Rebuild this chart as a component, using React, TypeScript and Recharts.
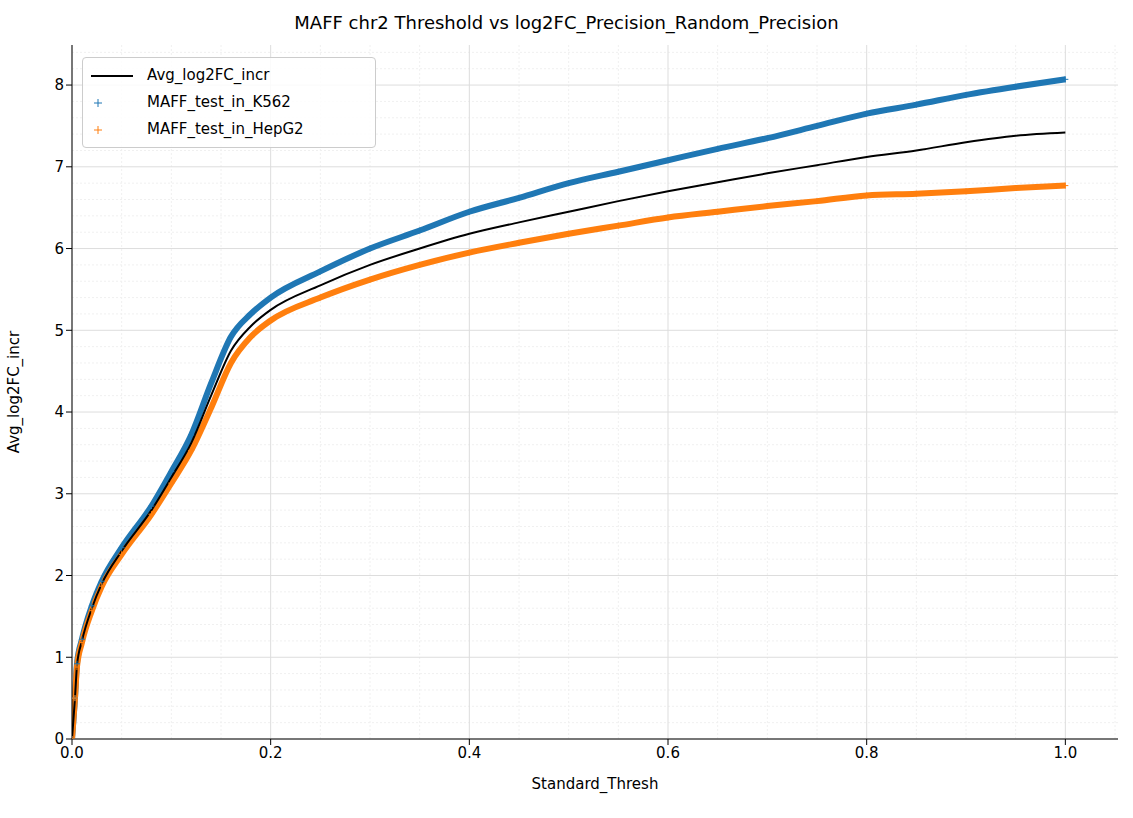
import React from "react"
import { ComposedChart, Line, XAxis, YAxis, CartesianGrid } from "recharts"

const thresh = [0, 0.003, 0.005, 0.01, 0.02, 0.03, 0.05, 0.08, 0.1, 0.12, 0.14, 0.16, 0.18, 0.2, 0.25, 0.3, 0.35, 0.4, 0.45, 0.5, 0.55, 0.6, 0.65, 0.7, 0.75, 0.8, 0.85, 0.9, 0.95, 1.0]
const avgIncr = [0, 0.5, 0.9, 1.2, 1.6, 1.9, 2.3, 2.8, 3.2, 3.62, 4.2, 4.75, 5.05, 5.25, 5.55, 5.8, 6.0, 6.18, 6.32, 6.45, 6.58, 6.7, 6.81, 6.92, 7.02, 7.12, 7.2, 7.3, 7.38, 7.42]
const k562 = [0, 0.5, 0.92, 1.22, 1.63, 1.93, 2.34, 2.85, 3.27, 3.72, 4.35, 4.92, 5.2, 5.4, 5.72, 6.0, 6.22, 6.45, 6.62, 6.8, 6.94, 7.08, 7.22, 7.35, 7.5, 7.65, 7.76, 7.88, 7.98, 8.07]
const hepg2 = [0, 0.5, 0.88, 1.18, 1.57, 1.87, 2.26, 2.75, 3.13, 3.53, 4.05, 4.6, 4.92, 5.12, 5.4, 5.62, 5.8, 5.95, 6.07, 6.18, 6.28, 6.38, 6.45, 6.52, 6.58, 6.65, 6.67, 6.7, 6.74, 6.77]
const xTicks = [0, 0.2, 0.4, 0.6, 0.8, 1.0]
const yTicks = [0, 1, 2, 3, 4, 5, 6, 7, 8]
const xMinor = [0.05, 0.1, 0.15, 0.25, 0.3, 0.35, 0.45, 0.5, 0.55, 0.65, 0.7, 0.75, 0.85, 0.9, 0.95, 1.05]
const yMinor = [0.2, 0.4, 0.6, 0.8]

const data = thresh.map((t, i) => ({ t, avg: avgIncr[i], k562: k562[i], hepg2: hepg2[i] }))

const font = "DejaVu Sans, sans-serif"
const X_MAX = 1.053
const Y_MAX = 8.49
const L = 72, R = 1118, T = 45, B = 739
const px = (v: number) => L + (v / X_MAX) * (R - L)
const py = (v: number) => B - (v / Y_MAX) * (B - T)

const Plus = (color: string) => (p: any) => {
  const { cx, cy } = p
  if (cx == null || cy == null) return <g key={p.index} />
  return (
    <g key={p.index} stroke={color} strokeWidth={1}>
      <line x1={cx - 3} x2={cx + 3} y1={cy} y2={cy} />
      <line x1={cx} x2={cx} y1={cy - 3} y2={cy + 3} />
    </g>
  )
}

const Cross = ({ color }: { color: string }) => (
  <svg width={30} height={14} style={{ verticalAlign: "middle" }}>
    <line x1={11} x2={19} y1={7} y2={7} stroke={color} />
    <line x1={15} x2={15} y1={3} y2={11} stroke={color} />
  </svg>
)

export default function App() {
  const allMinorY = yTicks.flatMap((y) => yMinor.map((m) => y + m)).filter((v) => v < Y_MAX)
  return (
    <div style={{ position: "absolute", left: 0, top: 0, width: 1133, height: 818, background: "#fff", fontFamily: font }}>
      <div style={{ position: "absolute", top: 12, width: 1133, textAlign: "center", fontSize: 18 }}>
        MAFF chr2 Threshold vs log2FC_Precision_Random_Precision
      </div>
      <ComposedChart width={1133} height={818} data={data} margin={{ left: 12, right: 15, top: 45, bottom: 49 }}>
        <CartesianGrid stroke="#f0f0f0" strokeDasharray="2 2"
          verticalPoints={xMinor.map(px)} horizontalPoints={allMinorY.map(py)} />
        <CartesianGrid stroke="#dddddd" verticalPoints={xTicks.map(px)} horizontalPoints={yTicks.map(py)} />
        <XAxis type="number" dataKey="t" domain={[0, X_MAX]} ticks={xTicks} height={30} allowDataOverflow
          tickFormatter={(v: number) => v.toFixed(1)} stroke="#000" tick={{ fill: "#000", fontSize: 15, fontFamily: font }}
          label={{ value: "Standard_Thresh", position: "insideBottom", offset: -20, fill: "#000", fontSize: 15, fontFamily: font }} />
        <XAxis xAxisId="top" orientation="top" type="number" dataKey="t" domain={[0, X_MAX]} tick={false} tickLine={false} height={0} stroke="#000" />
        <YAxis type="number" domain={[0, Y_MAX]} ticks={yTicks} width={60} allowDataOverflow stroke="#000"
          tick={{ fill: "#000", fontSize: 15, fontFamily: font }}
          label={{ value: "Avg_log2FC_incr", angle: -90, position: "insideLeft", offset: 2, fill: "#000", fontSize: 15, fontFamily: font, style: { textAnchor: "middle" } }} />
        <YAxis yAxisId="right" orientation="right" domain={[0, Y_MAX]} tick={false} tickLine={false} width={0} stroke="#000" />
        <Line dataKey="k562" type="monotone" stroke="#1f77b4" strokeWidth={6} dot={Plus("#1f77b4")} isAnimationActive={false} />
        <Line dataKey="hepg2" type="monotone" stroke="#ff7f0e" strokeWidth={6} dot={Plus("#ff7f0e")} isAnimationActive={false} />
        <Line dataKey="avg" type="monotone" stroke="#000" strokeWidth={2} dot={false} isAnimationActive={false} />
      </ComposedChart>
      <div style={{ position: "absolute", left: 82, top: 57, width: 292, padding: "4px 0", border: "1px solid #ccc", borderRadius: 4, background: "rgba(255,255,255,0.85)", fontSize: 15, lineHeight: "27px" }}>
        <div><svg width={60} height={14} style={{ verticalAlign: "middle", marginLeft: 4 }}><line x1={4} x2={46} y1={7} y2={7} stroke="#000" strokeWidth={2} /></svg>Avg_log2FC_incr</div>
        <div><span style={{ display: "inline-block", width: 64 }}><Cross color="#1f77b4" /></span>MAFF_test_in_K562</div>
        <div><span style={{ display: "inline-block", width: 64 }}><Cross color="#ff7f0e" /></span>MAFF_test_in_HepG2</div>
      </div>
    </div>
  )
}
